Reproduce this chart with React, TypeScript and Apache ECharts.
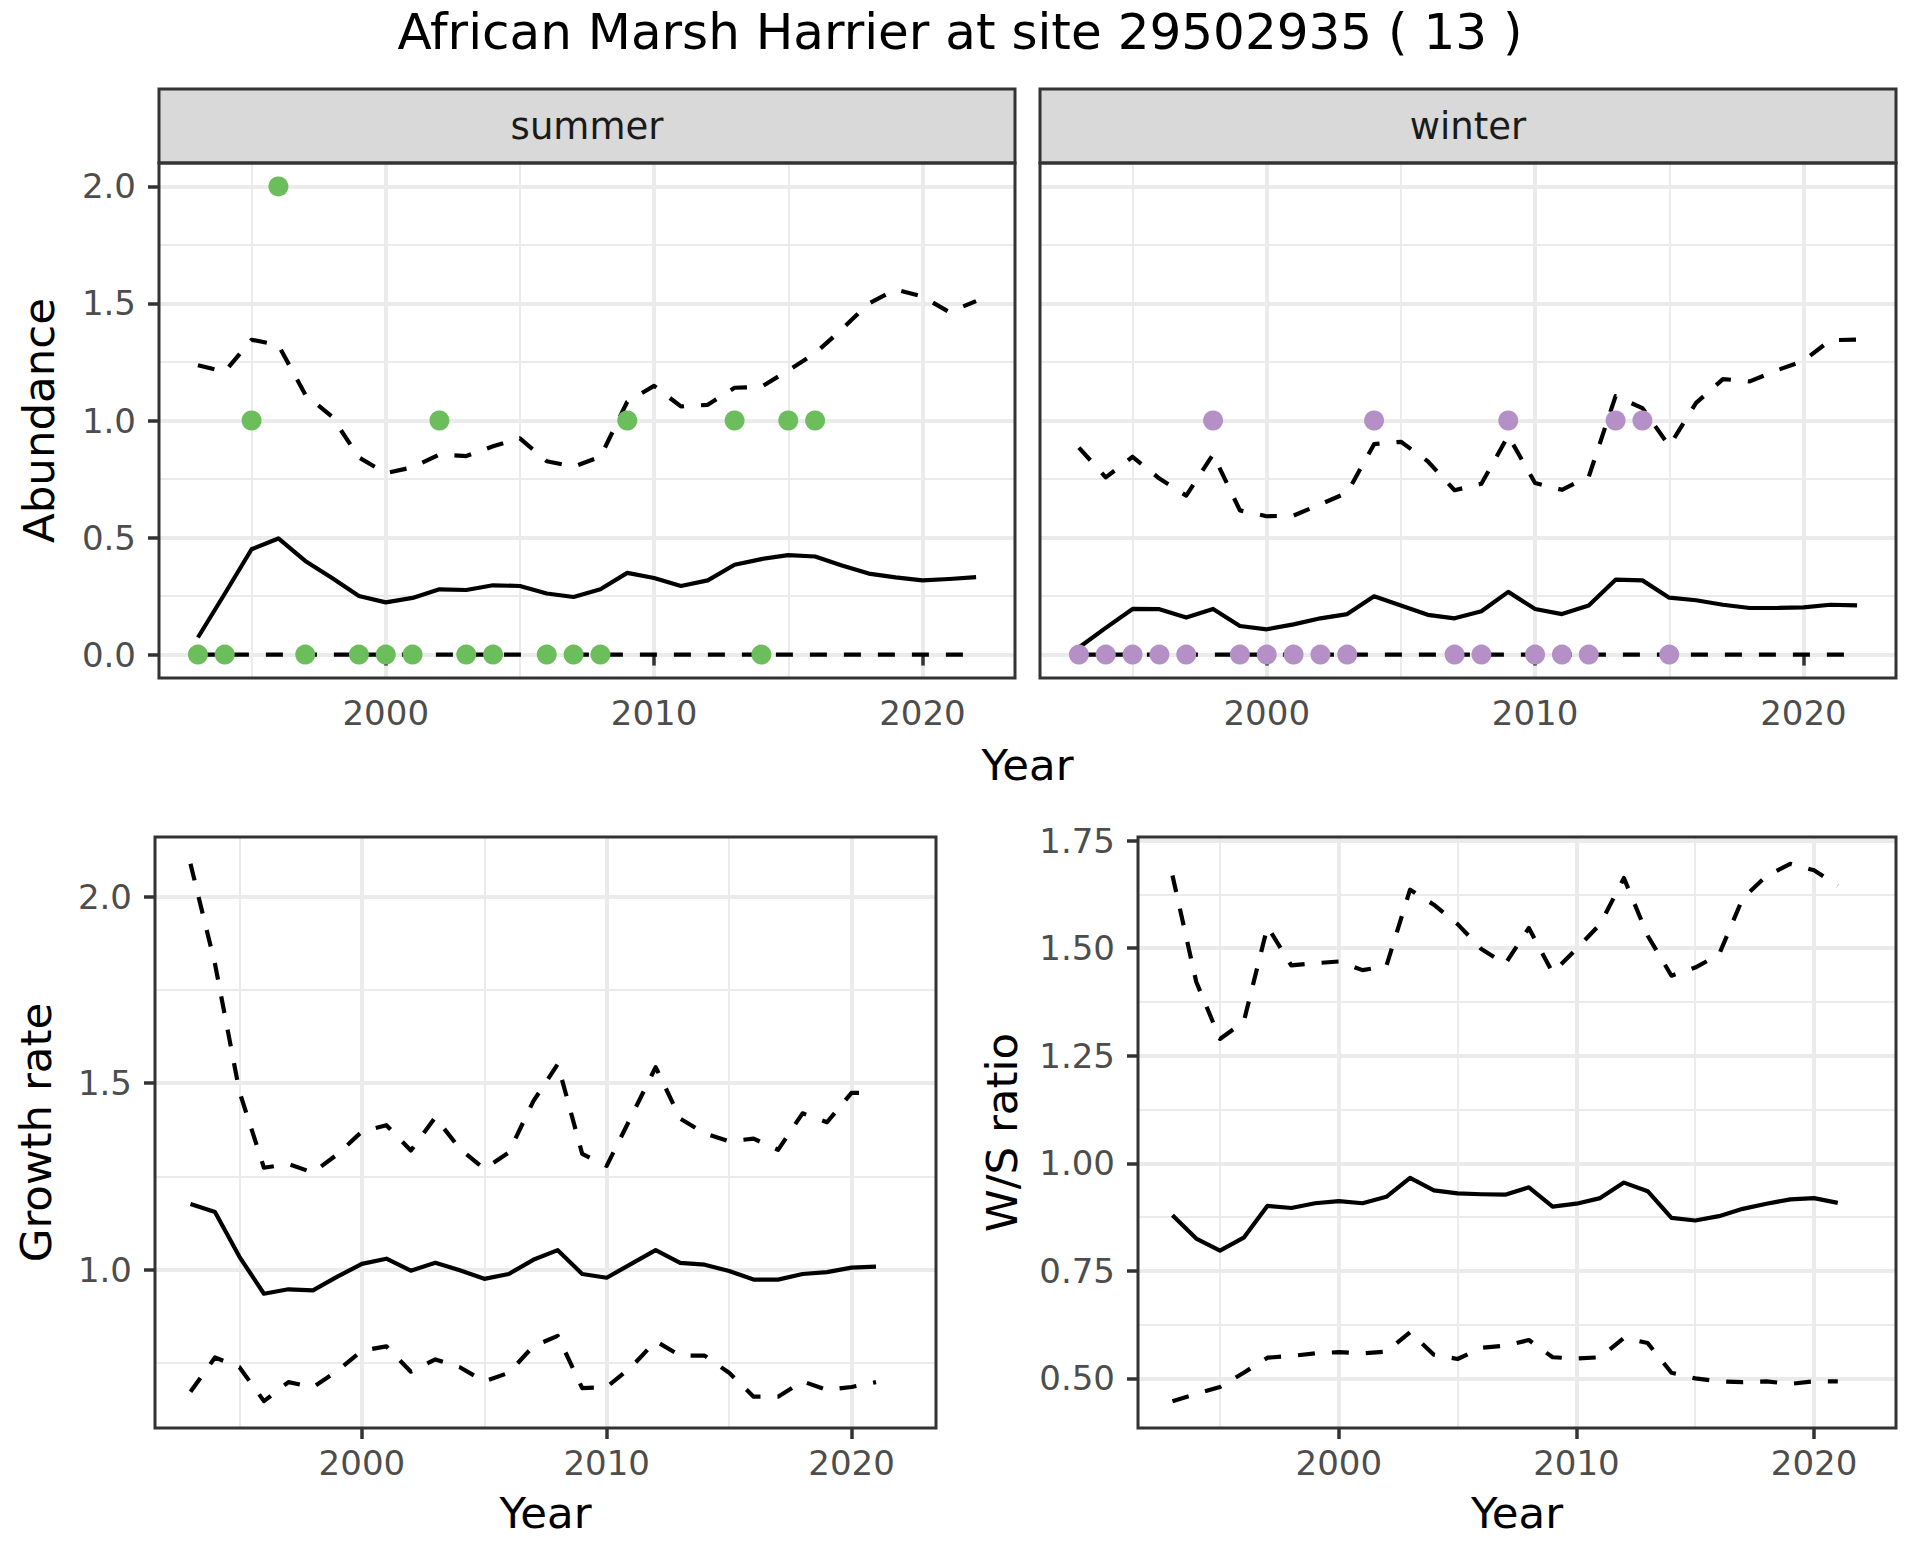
import React, { useEffect, useRef } from "react";
import * as echarts from "echarts";

// ---------------- data ----------------
const years = [1993, 1994, 1995, 1996, 1997, 1998, 1999, 2000, 2001, 2002, 2003, 2004, 2005, 2006, 2007, 2008, 2009, 2010, 2011, 2012, 2013, 2014, 2015, 2016, 2017, 2018, 2019, 2020, 2021, 2022];
const yearsRatio = [1993, 1994, 1995, 1996, 1997, 1998, 1999, 2000, 2001, 2002, 2003, 2004, 2005, 2006, 2007, 2008, 2009, 2010, 2011, 2012, 2013, 2014, 2015, 2016, 2017, 2018, 2019, 2020, 2021];

const summerMean = [0.073, 0.26, 0.45, 0.496, 0.40, 0.327, 0.25, 0.223, 0.242, 0.279, 0.276, 0.296, 0.293, 0.261, 0.246, 0.279, 0.349, 0.327, 0.293, 0.317, 0.384, 0.408, 0.425, 0.419, 0.381, 0.346, 0.33, 0.317, 0.323, 0.331];
const summerUpper = [1.236, 1.208, 1.345, 1.322, 1.111, 1.016, 0.842, 0.775, 0.80, 0.855, 0.848, 0.89, 0.924, 0.826, 0.803, 0.845, 1.08, 1.148, 1.06, 1.067, 1.14, 1.144, 1.214, 1.287, 1.39, 1.5, 1.559, 1.53, 1.463, 1.51];
const summerLower = [0, 0, 0, 0, 0, 0, 0, 0, 0, 0, 0, 0, 0, 0, 0, 0, 0, 0, 0, 0, 0, 0, 0, 0, 0, 0, 0, 0, 0, 0];
const summerObsYears = [1993, 1994, 1995, 1996, 1997, 1999, 2000, 2001, 2002, 2003, 2004, 2006, 2007, 2008, 2009, 2013, 2014, 2015, 2016];
const summerObs = [0, 0, 1, 2, 0, 0, 0, 0, 1, 0, 0, 0, 0, 0, 1, 1, 0, 1, 1];

const winterMean = [0.03, 0.114, 0.195, 0.194, 0.158, 0.195, 0.122, 0.108, 0.129, 0.155, 0.173, 0.249, 0.21, 0.17, 0.155, 0.185, 0.268, 0.195, 0.173, 0.21, 0.32, 0.317, 0.243, 0.232, 0.213, 0.199, 0.199, 0.202, 0.213, 0.21];
const winterUpper = [0.884, 0.757, 0.845, 0.752, 0.679, 0.855, 0.616, 0.591, 0.594, 0.642, 0.692, 0.899, 0.909, 0.826, 0.702, 0.73, 0.935, 0.733, 0.704, 0.76, 1.104, 1.053, 0.891, 1.075, 1.177, 1.167, 1.214, 1.255, 1.343, 1.346];
const winterLower = [0, 0, 0, 0, 0, 0, 0, 0, 0, 0, 0, 0, 0, 0, 0, 0, 0, 0, 0, 0, 0, 0, 0, 0, 0, 0, 0, 0, 0, 0];
const winterObsYears = [1993, 1994, 1995, 1996, 1997, 1998, 1999, 2000, 2001, 2002, 2003, 2004, 2007, 2008, 2009, 2010, 2011, 2012, 2013, 2014, 2015];
const winterObs = [0, 0, 0, 0, 0, 1, 0, 0, 0, 0, 0, 1, 0, 0, 1, 0, 0, 0, 1, 1, 0];

const growthMean = [1.176, 1.154, 1.034, 0.935, 0.947, 0.944, 0.981, 1.015, 1.029, 0.997, 1.018, 0.998, 0.975, 0.988, 1.026, 1.052, 0.988, 0.978, 1.015, 1.052, 1.018, 1.013, 0.996, 0.973, 0.973, 0.988, 0.993, 1.005, 1.008];
const growthUpper = [2.088, 1.82, 1.477, 1.273, 1.283, 1.26, 1.309, 1.37, 1.387, 1.319, 1.408, 1.324, 1.27, 1.314, 1.451, 1.551, 1.31, 1.278, 1.41, 1.543, 1.405, 1.365, 1.344, 1.351, 1.321, 1.419, 1.395, 1.474, 1.474];
const growthLower = [0.672, 0.764, 0.738, 0.647, 0.698, 0.684, 0.728, 0.782, 0.794, 0.726, 0.759, 0.738, 0.70, 0.723, 0.794, 0.822, 0.682, 0.685, 0.738, 0.808, 0.769, 0.769, 0.723, 0.659, 0.659, 0.70, 0.677, 0.685, 0.698];

const wsMean = [0.879, 0.825, 0.797, 0.827, 0.901, 0.896, 0.907, 0.912, 0.907, 0.922, 0.966, 0.937, 0.930, 0.928, 0.927, 0.944, 0.899, 0.906, 0.919, 0.955, 0.935, 0.873, 0.867, 0.877, 0.894, 0.906, 0.916, 0.919, 0.908];
const wsUpper = [1.669, 1.422, 1.289, 1.329, 1.55, 1.46, 1.465, 1.469, 1.449, 1.458, 1.636, 1.601, 1.556, 1.498, 1.463, 1.547, 1.443, 1.498, 1.556, 1.663, 1.529, 1.436, 1.455, 1.485, 1.616, 1.668, 1.696, 1.681, 1.645];
const wsLower = [0.447, 0.464, 0.480, 0.513, 0.548, 0.552, 0.558, 0.561, 0.558, 0.562, 0.607, 0.555, 0.545, 0.571, 0.576, 0.589, 0.549, 0.546, 0.549, 0.594, 0.582, 0.513, 0.50, 0.493, 0.491, 0.493, 0.487, 0.493, 0.493];

const xTicks = [2000, 2010, 2020];
const abundanceTicks = [0, 0.5, 1, 1.5, 2];
const growthTicks = [1, 1.5, 2];
const wsTicks = [0.5, 0.75, 1, 1.25, 1.5, 1.75];

const titleText = "African Marsh Harrier at site 29502935 ( 13 )";
const facetLabels = ["summer", "winter"];

// ---------------- layout / style ----------------
const FONT = "DejaVu Sans";
const GRIDS = [
  { left: 159, top: 163, width: 856, height: 515 },
  { left: 1040, top: 163, width: 856, height: 515 },
  { left: 155, top: 837, width: 781, height: 591 },
  { left: 1138, top: 837, width: 758, height: 591 },
];
const STRIP_TOP = 89;
const GREEN = "#6CBE5C";
const PURPLE = "#B590C6";
const GRID_COL = "#EBEBEB";
const BORDER_COL = "#333333";
const TICK_TXT = "#4D4D4D";
const LINE_W = 4.2;
const DASH = [17, 17];

function expand(vals: number[], mult = 0.05): [number, number] {
  const lo = Math.min(...vals);
  const hi = Math.max(...vals);
  const pad = (hi - lo) * mult;
  return [lo - pad, hi + pad];
}

const pairs = (xs: number[], ys: number[]) => xs.map((x, i) => [x, ys[i]]);

export default function App() {
  const ref = useRef<HTMLDivElement>(null);

  useEffect(() => {
    document.body.style.margin = "0";
    if (!ref.current) return;
    const chart = echarts.init(ref.current, null, { renderer: "svg" });

    const [xMin, xMax] = expand(years);
    const [topMin, topMax] = expand([...summerMean, ...summerUpper, ...summerLower, ...summerObs, ...winterMean, ...winterUpper, ...winterLower, ...winterObs]);
    const [grMin, grMax] = expand([...growthMean, ...growthUpper, ...growthLower]);
    const [wsMin, wsMax] = expand([...wsMean, ...wsUpper, ...wsLower]);

    const xAxis = (gridIndex: number) => ({
      type: "value",
      gridIndex,
      min: xMin,
      max: xMax,
      minInterval: 10,
      maxInterval: 10,
      axisLine: { show: false },
      axisTick: { show: true, length: 11, customValues: xTicks, lineStyle: { color: BORDER_COL, width: 3.5 } },
      axisLabel: {
        show: true,
        customValues: xTicks,
        margin: 18,
        fontSize: 34,
        fontFamily: FONT,
        color: TICK_TXT,
        formatter: (v: number) => (Math.abs(v / 10 - Math.round(v / 10)) < 1e-6 ? String(Math.round(v)) : ""),
      },
      splitLine: { show: true, lineStyle: { color: GRID_COL, width: 4 } },
      minorTick: { show: false, splitNumber: 2 },
      minorSplitLine: { show: true, lineStyle: { color: GRID_COL, width: 2 } },
    });

    const yAxis = (gridIndex: number, min: number, max: number, step: number, ticks: number[], digits: number, showLabels: boolean) => ({
      type: "value",
      gridIndex,
      min,
      max,
      minInterval: step,
      maxInterval: step,
      axisLine: { show: false },
      axisTick: { show: showLabels, length: 11, customValues: ticks, lineStyle: { color: BORDER_COL, width: 3.5 } },
      axisLabel: {
        show: showLabels,
        customValues: ticks,
        margin: 23,
        fontSize: 34,
        fontFamily: FONT,
        color: TICK_TXT,
        formatter: (v: number) => (ticks.some((t) => Math.abs(t - v) < 1e-6) ? v.toFixed(digits) : ""),
      },
      splitLine: { show: true, lineStyle: { color: GRID_COL, width: 4 } },
      minorTick: { show: false, splitNumber: 2 },
      minorSplitLine: { show: true, lineStyle: { color: GRID_COL, width: 2 } },
    });

    const line = (idx: number, xs: number[], ys: number[], dashed: boolean) => ({
      type: "line",
      xAxisIndex: idx,
      yAxisIndex: idx,
      data: pairs(xs, ys),
      showSymbol: false,
      symbol: "none",
      z: 3,
      silent: true,
      lineStyle: { color: "#000000", width: LINE_W, type: dashed ? DASH : "solid", join: "round", cap: "butt" },
    });

    const points = (idx: number, xs: number[], ys: number[], color: string) => ({
      type: "scatter",
      xAxisIndex: idx,
      yAxisIndex: idx,
      data: pairs(xs, ys),
      symbol: "circle",
      symbolSize: 20,
      z: 5,
      silent: true,
      itemStyle: { color, opacity: 1 },
    });

    const graphics: any[] = [];
    // strips
    [0, 1].forEach((i) => {
      const g = GRIDS[i];
      graphics.push({
        type: "rect",
        z: 50,
        shape: { x: g.left, y: STRIP_TOP, width: g.width, height: g.top - STRIP_TOP },
        style: { fill: "#D9D9D9", stroke: BORDER_COL, lineWidth: 3 },
      });
      graphics.push({
        type: "text",
        z: 51,
        x: g.left + g.width / 2,
        y: (STRIP_TOP + g.top) / 2,
        style: { text: facetLabels[i], fontSize: 37, fontFamily: FONT, fill: "#1A1A1A", align: "center", verticalAlign: "middle" },
      });
    });
    // panel borders
    GRIDS.forEach((g) => {
      graphics.push({
        type: "rect",
        z: 60,
        shape: { x: g.left, y: g.top, width: g.width, height: g.height },
        style: { fill: "none", stroke: BORDER_COL, lineWidth: 3 },
      });
    });
    const txt = (text: string, x: number, y: number, size: number, rot = 0) => ({
      type: "text",
      z: 70,
      x,
      y,
      rotation: rot,
      style: { text, fontSize: size, fontFamily: FONT, fill: "#000000", align: "center", verticalAlign: "middle" },
    });
    graphics.push(txt(titleText, 960, 32, 50));
    graphics.push(txt("Year", (GRIDS[0].left + GRIDS[1].left + GRIDS[1].width) / 2, 765, 43.5));
    graphics.push(txt("Abundance", 39, GRIDS[0].top + GRIDS[0].height / 2, 43.5, Math.PI / 2));
    graphics.push(txt("Year", GRIDS[2].left + GRIDS[2].width / 2, 1513, 43.5));
    graphics.push(txt("Year", GRIDS[3].left + GRIDS[3].width / 2, 1513, 43.5));
    graphics.push(txt("Growth rate", 36, GRIDS[2].top + GRIDS[2].height / 2, 43.5, Math.PI / 2));
    graphics.push(txt("W/S ratio", 1002, GRIDS[3].top + GRIDS[3].height / 2, 43.5, Math.PI / 2));

    chart.setOption({
      animation: false,
      backgroundColor: "#FFFFFF",
      grid: GRIDS.map((g) => ({ ...g, show: true, backgroundColor: "#FFFFFF", borderWidth: 0, containLabel: false })),
      xAxis: [xAxis(0), xAxis(1), xAxis(2), xAxis(3)],
      yAxis: [
        yAxis(0, topMin, topMax, 0.5, abundanceTicks, 1, true),
        yAxis(1, topMin, topMax, 0.5, abundanceTicks, 1, false),
        yAxis(2, grMin, grMax, 0.5, growthTicks, 1, true),
        yAxis(3, wsMin, wsMax, 0.25, wsTicks, 2, true),
      ],
      series: [
        line(0, years, summerUpper, true),
        line(0, years, summerLower, true),
        line(0, years, summerMean, false),
        points(0, summerObsYears, summerObs, GREEN),
        line(1, years, winterUpper, true),
        line(1, years, winterLower, true),
        line(1, years, winterMean, false),
        points(1, winterObsYears, winterObs, PURPLE),
        line(2, yearsRatio, growthUpper, true),
        line(2, yearsRatio, growthLower, true),
        line(2, yearsRatio, growthMean, false),
        line(3, yearsRatio, wsUpper, true),
        line(3, yearsRatio, wsLower, true),
        line(3, yearsRatio, wsMean, false),
      ],
      graphic: graphics,
    });

    return () => chart.dispose();
  }, []);

  return <div ref={ref} style={{ width: 1920, height: 1560 }} />;
}
